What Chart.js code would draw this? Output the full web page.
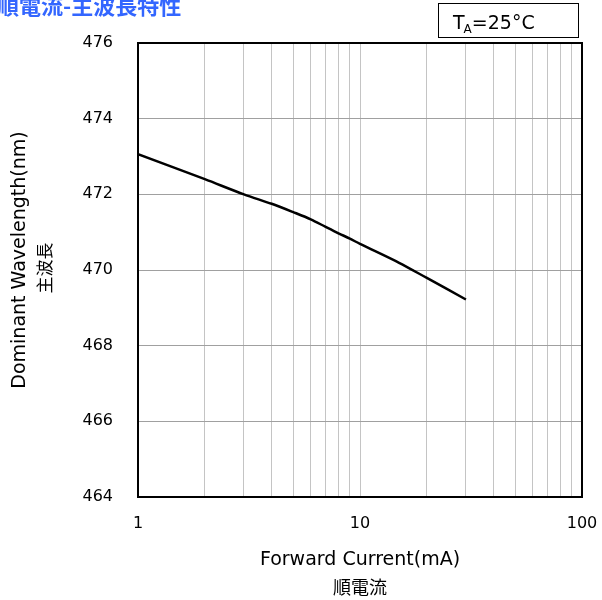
<!DOCTYPE html>
<html>
<head>
<meta charset="utf-8">
<script src="https://cdn.jsdelivr.net/npm/chart.js@4.4.1/dist/chart.umd.min.js"></script>
<style>
    html, body { margin: 0; padding: 0; background: #fff; }
    #wrap { width: 602px; height: 600px; position: relative; }
</style>
</head>
<body>
<div id="wrap"><canvas id="fwChart"></canvas></div>
<script>
// data
let currents = [1, 2, 3, 4, 5, 6, 7, 8, 9, 10, 15, 20, 30];
let wavelengths = [473.06, 472.40, 472.00, 471.75, 471.53, 471.34, 471.14, 470.97, 470.83, 470.69, 470.19, 469.79, 469.22];
let xTicks = [1, 2, 3, 4, 5, 6, 7, 8, 9, 10, 20, 30, 40, 50, 60, 70, 80, 90, 100];
let xLabels = [1, 10, 100];
let yTicks = [464, 466, 468, 470, 472, 474, 476];

let chartTitle = "順電流-主波長特性";
let xTitle = ["Forward Current(mA)", "順電流"];
let yTitle = ["Dominant Wavelength(nm)", "主波長"];

let latin = '"DejaVu Sans", Verdana, sans-serif';
let cjk = '"Noto Sans CJK JP", "Noto Sans CJK SC", sans-serif';

let decorations = {
    id: 'decorations',
    afterDraw(chart) {
        let ctx = chart.ctx;
        let a = chart.chartArea;
        ctx.save();
        // frame
        ctx.strokeStyle = '#000';
        ctx.lineWidth = 2;
        ctx.strokeRect(a.left, a.top, a.right - a.left, a.bottom - a.top);

        // top-left heading (cut at the edge like the original)
        ctx.fillStyle = '#3366ff';
        ctx.font = 'bold 22px ' + cjk;
        ctx.textBaseline = 'alphabetic';
        ctx.textAlign = 'left';
        ctx.fillText(chartTitle, -3, 14);

        // temperature box
        ctx.lineWidth = 1;
        ctx.strokeRect(438.5, 3.5, 140, 34);
        ctx.fillStyle = '#000';
        ctx.font = '19px ' + latin;
        ctx.fillText('T', 453, 29);
        let tw = ctx.measureText('T').width;
        ctx.font = '12px ' + latin;
        ctx.fillText('A', 453 + tw - 1, 33);
        let aw = ctx.measureText('A').width;
        ctx.font = '19px ' + latin;
        ctx.fillText('=25°C', 453 + tw + aw - 1, 29);

        // x axis title
        let cx = (a.left + a.right) / 2;
        ctx.textAlign = 'center';
        ctx.textBaseline = 'middle';
        ctx.font = '19px ' + latin;
        ctx.fillText(xTitle[0], cx, 560);
        ctx.font = '18px ' + cjk;
        ctx.fillText(xTitle[1], cx, 587);

        // y axis title
        let cy = (a.top + a.bottom) / 2;
        ctx.translate(20, cy - 10);
        ctx.rotate(-Math.PI / 2);
        ctx.font = '19px ' + latin;
        ctx.fillText(yTitle[0], 0, 0);
        ctx.restore();
        ctx.save();
        ctx.fillStyle = '#000';
        ctx.textAlign = 'center';
        ctx.textBaseline = 'middle';
        ctx.translate(45, cy - 2);
        ctx.rotate(-Math.PI / 2);
        ctx.font = '17px ' + cjk;
        ctx.fillText(yTitle[1], 0, 0);
        ctx.restore();
    }
};

let fwChart = new Chart(
    document.getElementById("fwChart"),
    {
        type: 'line',
        data: {
            datasets: [{
                data: currents.map((c, i) => { return {x: c, y: wavelengths[i]} }),
                borderColor: '#000',
                borderWidth: 2.5,
                pointRadius: 0,
                tension: 0.3,
                fill: false
            }]
        },
        options: {
            responsive: true,
            maintainAspectRatio: false,
            animation: false,
            layout: {padding: {left: 0, right: 20, top: 43, bottom: 0}},
            plugins: {
                legend: {display: false},
                tooltip: {enabled: false}
            },
            scales: {
                x: {
                    type: 'logarithmic',
                    min: 1,
                    max: 100,
                    afterBuildTicks: (scale) => { scale.ticks = xTicks.map((v) => { return {value: v} }); },
                    afterFit: (scale) => {
                        scale.height = 103;
                        scale.paddingLeft = 0;
                        scale.paddingRight = 0;
                    },
                    grid: {color: '#c4c4c4', lineWidth: 1, drawTicks: false},
                    border: {color: '#000', width: 2},
                    ticks: {
                        autoSkip: false,
                        maxRotation: 0,
                        padding: 17,
                        color: '#000',
                        font: {family: latin, size: 16},
                        callback: (v) => { return xLabels.includes(v) ? String(v) : ''; }
                    }
                },
                y: {
                    min: 464,
                    max: 476,
                    afterBuildTicks: (scale) => { scale.ticks = yTicks.map((v) => { return {value: v} }); },
                    afterFit: (scale) => {
                        scale.width = 138;
                        scale.paddingTop = 0;
                        scale.paddingBottom = 0;
                    },
                    grid: {color: '#a0a0a0', lineWidth: 1, drawTicks: false},
                    border: {color: '#000', width: 2},
                    ticks: {
                        padding: 25,
                        color: '#000',
                        font: {family: latin, size: 16}
                    }
                }
            }
        },
        plugins: [decorations]
    });
</script>
</body>
</html>
